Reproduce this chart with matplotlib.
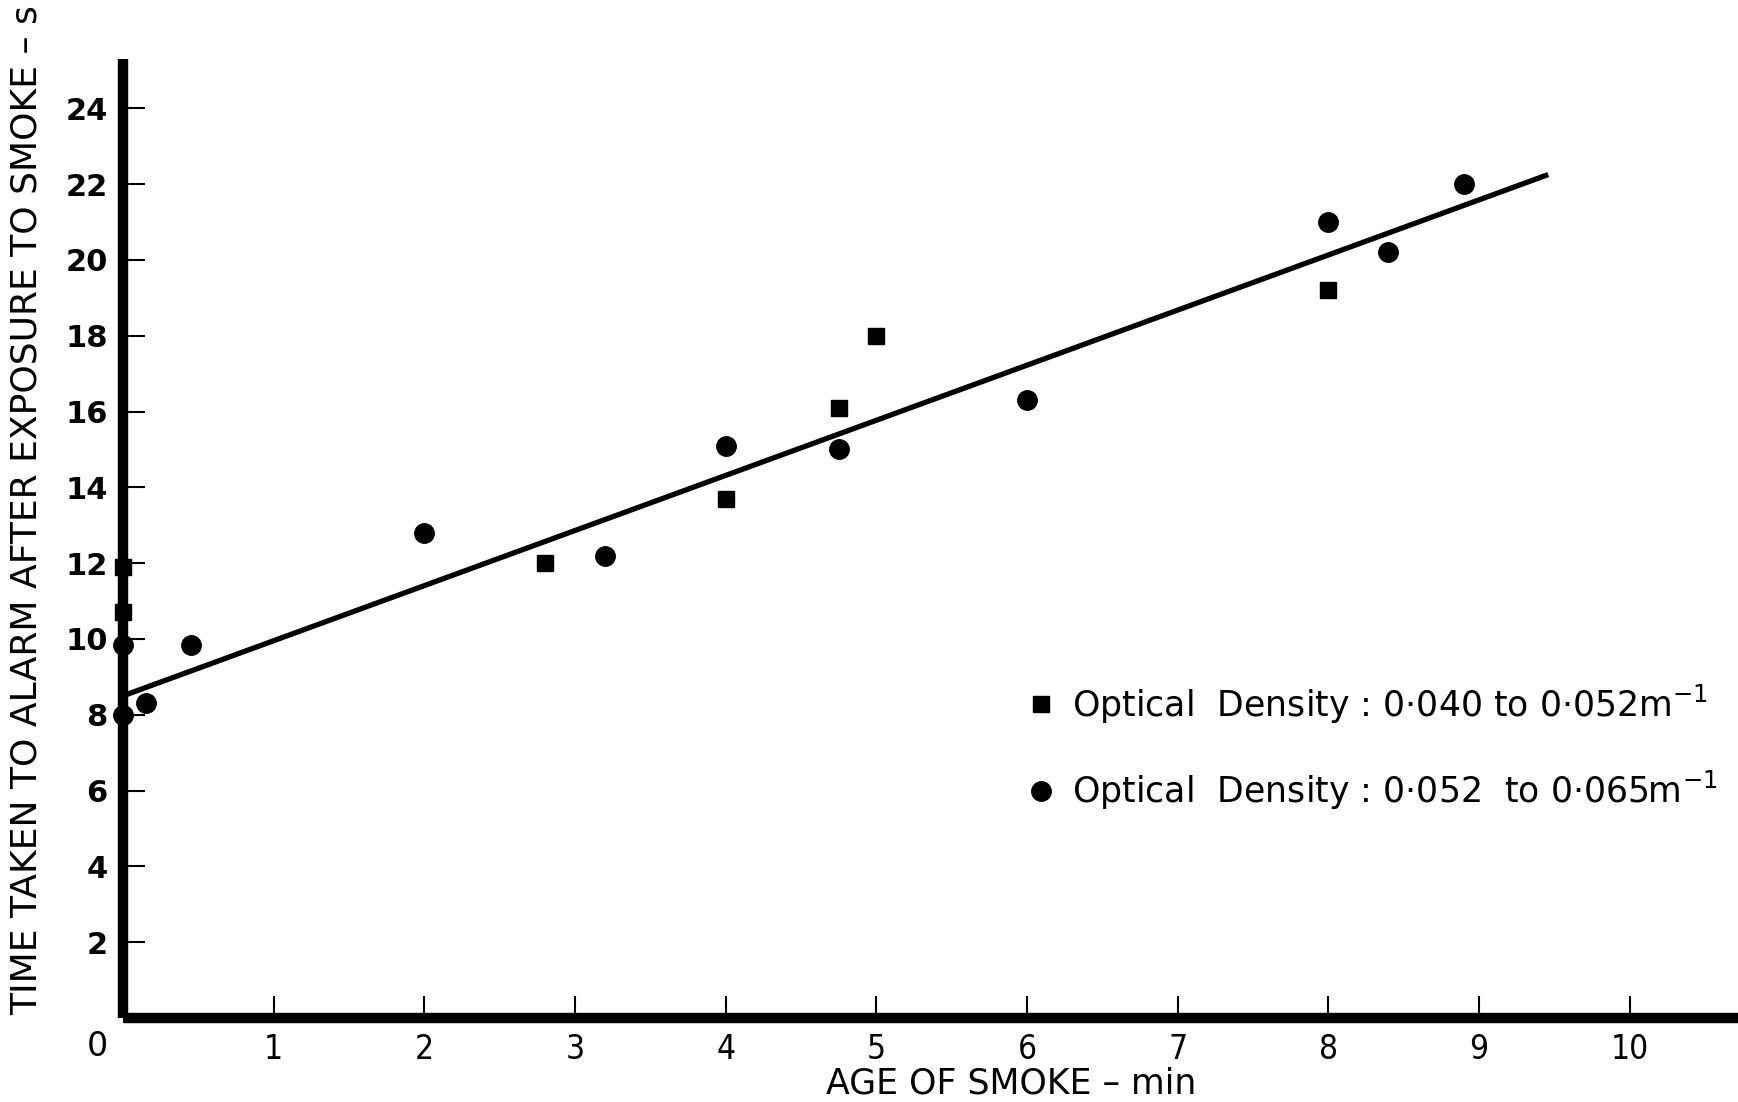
import numpy as np
import matplotlib
matplotlib.use("Agg")
import matplotlib.pyplot as plt
from matplotlib.lines import Line2D

# optical density 0.040 - 0.052 m^-1
sq_age = [0.0, 0.0, 2.8, 4.0, 4.75, 5.0, 8.0]
sq_time = [11.9, 10.7, 12.0, 13.7, 16.1, 18.0, 19.2]

# optical density 0.052 - 0.065 m^-1
ci_age = [0.0, 0.0, 0.15, 0.45, 2.0, 3.2, 4.0, 4.75, 6.0, 8.0, 8.4, 8.9]
ci_time = [8.0, 9.85, 8.3, 9.85, 12.8, 12.2, 15.1, 15.0, 16.3, 21.0, 20.2, 22.0]

# fitted line
fit_x = [0.0, 9.46]
fit_y = [8.5, 22.25]

x_ticks = [1, 2, 3, 4, 5, 6, 7, 8, 9, 10]
y_ticks = [2, 4, 6, 8, 10, 12, 14, 16, 18, 20, 22, 24]

plt.rcParams['font.family'] = ['DejaVu Sans']

fig = plt.figure(figsize=(17.38, 11.02), dpi=100)
ax = fig.add_axes([0.0708, 0.0762, 0.9292, 0.8703])
ax.set_xlim(0, 10.72)
ax.set_ylim(0, 25.3)

for side in ['top', 'right']:
    ax.spines[side].set_visible(False)
for side in ['left', 'bottom']:
    ax.spines[side].set_linewidth(7.5)
    ax.spines[side].set_capstyle('butt')

ax.plot(fit_x, fit_y, color='black', lw=3.8, solid_capstyle='butt', zorder=3)
ax.plot(sq_age, sq_time, ls='none', marker='s', ms=11, color='black',
        clip_on=False, zorder=4)
ax.plot(ci_age, ci_time, ls='none', marker='o', ms=14, color='black',
        clip_on=False, zorder=4)

ax.set_xticks(x_ticks)
ax.set_xticklabels([str(t) for t in x_ticks], fontsize=24, fontstretch='condensed')
ax.set_yticks(y_ticks)
ax.set_yticklabels([str(t) for t in y_ticks], fontsize=22, fontweight='bold')
ax.tick_params(axis='x', direction='in', length=16, width=1.5, pad=11)
ax.tick_params(axis='y', direction='in', length=16, width=1.5, pad=11)

ax.text(-0.17, -0.75, '0', fontsize=24, ha='center', va='center', clip_on=False)

ax.set_xlabel('AGE OF SMOKE – min', fontsize=25)
ax.xaxis.set_label_coords(0.55, -0.051)
ax.set_ylabel('TIME TAKEN TO ALARM AFTER EXPOSURE TO SMOKE – s', fontsize=26)
ax.yaxis.set_label_coords(-0.049, 0.53)

handles = [
    Line2D([], [], ls='none', marker='s', ms=11, color='black'),
    Line2D([], [], ls='none', marker='o', ms=14, color='black'),
]
labels = ['Optical  Density : 0·040 to 0·052m$^{-1}$',
          'Optical  Density : 0·052  to 0·065m$^{-1}$']
ax.legend(handles, labels, loc='upper left', bbox_to_anchor=(0.549, 0.368),
          frameon=False, fontsize=25, handlelength=0.8, handletextpad=0.5,
          labelspacing=1.24, borderpad=0)

fig.savefig('out.png', dpi=100)
